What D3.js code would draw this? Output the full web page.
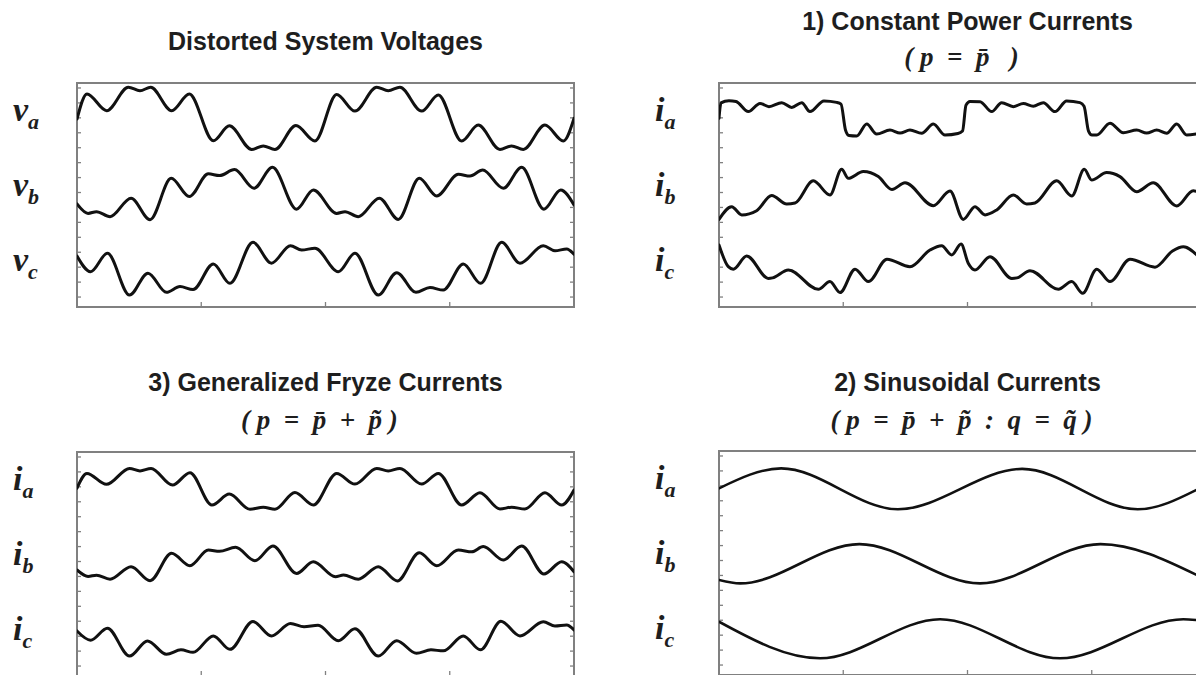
<!DOCTYPE html>
<html>
<head>
<meta charset="utf-8">
<script src="https://cdn.jsdelivr.net/npm/d3@7"></script>
<style>
  html, body { margin: 0; padding: 0; background: #fff; }
  svg { display: block; }
  .title { font-family: "Liberation Sans", Arial, sans-serif; font-weight: bold; font-size: 25px; fill: #1e1e1e; }
  .formula { font-family: "Liberation Serif", "Times New Roman", serif; font-weight: bold; font-style: italic; font-size: 27px; fill: #1e1e1e; white-space: pre; }
  .sym { font-family: "Liberation Serif", "Times New Roman", serif; font-weight: bold; font-style: italic; fill: #1e1e1e; }
</style>
</head>
<body>
<svg id="chart" width="1196" height="675"></svg>
<script>
// Time axis: two 50 Hz cycles in milliseconds. Values: per-phase signal, arbitrary units.
const timeDomain = [0, 40];
const timeTicks = [10, 20, 30];

// Distorted system voltages
const voltageA = [[0,0.05],[0.80,1.06],[2.39,0.39],[4.13,1.33],[5.07,1.19],[5.93,1.33],[7.62,0.39],[9.04,1.06],[10.97,-0.82],[12.26,-0.22],[14.06,-1.17],[14.99,-1.03],[15.93,-1.17],[17.62,-0.21],[19.15,-0.83],[20.90,1.04],[22.37,0.37],[24.12,1.33],[25.05,1.19],[25.99,1.33],[27.74,0.37],[29.08,1.02],[30.96,-0.83],[32.29,-0.19],[34.04,-1.17],[34.98,-1.03],[35.92,-1.17],[37.66,-0.19],[39.14,-0.83],[40,0.08]];
const voltageB = [[0,-0.36],[0.89,-0.74],[1.57,-0.67],[2.66,-0.87],[4.35,-0.13],[5.88,-0.99],[7.58,0.67],[9.04,-0.06],[10.57,0.85],[11.47,0.78],[12.68,1.02],[14.24,0.27],[15.73,1.11],[17.67,-0.57],[19.02,0.20],[20.90,-0.74],[21.57,-0.67],[22.64,-0.87],[24.33,-0.13],[25.86,-0.98],[27.55,0.67],[28.95,-0.04],[30.69,0.83],[31.63,0.76],[32.65,1.00],[34.31,0.27],[35.79,1.11],[37.58,-0.57],[38.93,0.20],[40,-0.40]];
const voltageC = [[0,0.55],[1.09,-0.08],[2.45,0.66],[4.23,-1.02],[5.71,-0.14],[7.20,-0.91],[8.29,-0.68],[9.34,-0.80],[10.97,0.23],[12.31,-0.55],[14.16,1.10],[15.65,0.26],[17.18,0.96],[18.08,0.79],[19.15,0.86],[21.03,-0.08],[22.37,0.66],[24.25,-1.02],[25.73,-0.12],[27.28,-0.91],[28.41,-0.72],[29.48,-0.82],[31.09,0.23],[32.49,-0.55],[34.18,1.10],[35.65,0.26],[37.53,0.96],[38.47,0.76],[39.41,0.83],[40,0.62]];

// 1) Constant power currents
const constPowerA = [[0,0.08],[0.16,0.70],[0.80,0.79],[1.37,0.76],[2.36,0.35],[3.30,0.68],[4.02,0.55],[5.05,0.71],[5.85,0.52],[6.66,0.71],[7.32,0.35],[8.45,0.78],[9.47,0.72],[9.82,0.65],[10.18,-0.39],[10.46,-0.61],[11.08,-0.63],[11.89,-0.15],[12.69,-0.55],[13.76,-0.39],[14.57,-0.51],[15.37,-0.39],[16.31,-0.52],[17.25,-0.15],[18.19,-0.59],[19.23,-0.53],[19.60,-0.43],[19.88,0.61],[20.20,0.76],[21.01,0.75],[21.95,0.35],[22.75,0.71],[23.69,0.55],[24.49,0.68],[25.29,0.57],[26.10,0.71],[27.04,0.35],[27.98,0.78],[29.05,0.71],[29.38,0.57],[29.74,-0.43],[30.02,-0.59],[30.40,-0.59],[31.47,-0.12],[32.54,-0.50],[33.62,-0.39],[34.42,-0.51],[35.23,-0.39],[36.03,-0.52],[36.84,-0.15],[37.64,-0.59],[38.6,-0.53]];
const constPowerB = [[0,-0.98],[1.02,-0.47],[1.83,-0.80],[3.03,-0.63],[4.24,-0.02],[5.45,-0.36],[6.12,-0.32],[7.59,0.57],[8.93,0.0],[9.87,1.03],[10.41,0.67],[11.61,0.94],[12.82,0.74],[13.92,0.22],[14.97,0.49],[17.25,-0.43],[18.59,0.16],[19.66,-0.98],[20.60,-0.47],[21.41,-0.80],[22.35,-0.60],[23.69,0.0],[24.76,-0.36],[25.43,-0.32],[27.18,0.57],[28.39,-0.04],[29.40,1.03],[29.99,0.60],[31.20,0.90],[32.27,0.74],[33.62,0.13],[34.95,0.49],[36.84,-0.44],[38.17,0.17],[38.6,0.12]];
const constPowerC = [[0,0.99],[0.75,0.12],[1.15,0.02],[2.23,0.55],[3.97,-0.35],[4.31,-0.33],[5.58,-0.01],[7.99,-0.79],[8.93,-0.48],[9.74,-0.92],[10.95,0.02],[12.02,-0.48],[13.52,0.42],[15.37,0.12],[16.98,0.79],[17.92,0.96],[18.73,0.59],[19.48,1.03],[20.06,0.26],[20.60,-0.01],[21.81,0.52],[23.56,-0.35],[23.98,-0.33],[25.03,-0.04],[27.31,-0.79],[28.39,-0.48],[29.27,-0.95],[30.40,0.02],[31.47,-0.48],[33.08,0.42],[35.09,0.10],[36.50,0.75],[37.37,0.92],[38.6,0.52]];

// 3) Generalized Fryze currents
const fryzeA = [[0,0.05],[0.80,0.64],[2.37,0.20],[4.23,0.84],[5.07,0.74],[5.96,0.84],[7.69,0.17],[9.09,0.67],[10.86,-0.63],[12.26,-0.19],[13.92,-0.80],[14.99,-0.72],[15.93,-0.80],[17.54,-0.13],[19.02,-0.63],[20.90,0.64],[22.37,0.21],[24.12,0.84],[25.05,0.74],[25.99,0.84],[27.74,0.21],[29.08,0.64],[30.96,-0.63],[32.43,-0.14],[34.04,-0.79],[34.98,-0.72],[36.05,-0.79],[37.66,-0.14],[39.01,-0.63],[40,-0.03]];
const fryzeB = [[0,-0.24],[0.89,-0.50],[1.57,-0.45],[2.66,-0.61],[4.35,-0.11],[5.88,-0.67],[7.61,0.43],[9.09,-0.07],[10.57,0.56],[11.47,0.51],[12.76,0.67],[14.32,0.13],[15.77,0.72],[17.67,-0.38],[19.02,0.09],[20.80,-0.51],[21.45,-0.44],[22.64,-0.61],[24.25,-0.11],[25.78,-0.68],[27.55,0.45],[28.95,-0.07],[30.69,0.56],[31.77,0.49],[32.70,0.70],[34.31,0.16],[35.79,0.72],[37.58,-0.40],[39.01,0.09],[40,-0.31]];
const fryzeC = [[0,0.31],[1.09,-0.06],[2.45,0.42],[4.23,-0.70],[5.67,-0.09],[7.20,-0.63],[8.37,-0.45],[9.34,-0.55],[10.97,0.11],[12.31,-0.43],[14.16,0.69],[15.65,0.11],[17.18,0.61],[18.27,0.48],[19.40,0.54],[21.03,-0.08],[22.37,0.40],[24.25,-0.70],[25.73,-0.08],[27.32,-0.59],[28.49,-0.45],[29.48,-0.49],[31.09,0.11],[32.47,-0.45],[34.12,0.70],[35.65,0.11],[37.53,0.68],[38.47,0.51],[39.41,0.55],[40,0.35]];

// 2) Sinusoidal currents
const sineA = [[0,0.0],[5.0,0.80],[14.4,-0.84],[24.4,0.78],[33.7,-0.84],[38.6,-0.02]];
const sineB = [[0,-0.68],[1.7,-0.82],[11.3,0.76],[21.0,-0.82],[30.7,0.76],[38.6,-0.52]];
const sineC = [[0,0.64],[8.13,-0.83],[17.79,0.74],[27.44,-0.83],[37.37,0.74],[38.6,0.70]];

const phaseNames = ["a", "b", "c"];

const panels = [
  { left: 77,  top: 83,  letter: "v", series: [voltageA, voltageB, voltageC],
    title: "Distorted System Voltages", titleY: 49.5, formula: null, formulaY: null },
  { left: 719, top: 83,  letter: "i", series: [constPowerA, constPowerB, constPowerC],
    title: "1) Constant Power Currents", titleY: 30, formula: "( p  =  p\u0304   )", formulaY: 66 },
  { left: 77,  top: 452, letter: "i", series: [fryzeA, fryzeB, fryzeC],
    title: "3) Generalized Fryze Currents", titleY: 391, formula: "( p  =  p\u0304  +  p\u0303 )", formulaY: 429 },
  { left: 719, top: 451, letter: "i", series: [sineA, sineB, sineC],
    title: "2) Sinusoidal Currents", titleY: 391, formula: "( p  =  p\u0304  +  p\u0303  :  q  =  q\u0303 )", formulaY: 429 }
];

const W = 497, H = 224;
const svg = d3.select("#chart");

const x = d3.scaleLinear().domain(timeDomain).range([0, W]);
const y = d3.scaleLinear().domain([0, 9]).range([H, 0]);
const channelBase = [7.5, 4.5, 1.5];
const sideTicks = d3.range(0.4, 9, 0.6);

panels.forEach((p, pi) => {
  const g = svg.append("g").attr("transform", `translate(${p.left},${p.top})`);
  const clipId = "clip" + pi;
  // clip rectangle lives in the panel's local coordinates
  svg.append("clipPath").attr("id", clipId)
    .append("rect").attr("x", 0).attr("y", 0).attr("width", W).attr("height", H);

  // frame
  g.append("rect").attr("width", W).attr("height", H)
    .attr("fill", "none").attr("stroke", "#808080").attr("stroke-width", 2);

  // inner minor ticks on left and right edges, major ticks on the bottom
  g.selectAll(".tl").data(sideTicks).join("line")
    .attr("x1", 0).attr("x2", 4).attr("y1", d => y(d)).attr("y2", d => y(d))
    .attr("stroke", "#808080").attr("stroke-width", 1.3);
  g.selectAll(".tr").data(sideTicks).join("line")
    .attr("x1", W - 4).attr("x2", W).attr("y1", d => y(d)).attr("y2", d => y(d))
    .attr("stroke", "#808080").attr("stroke-width", 1.3);
  g.selectAll(".tb").data(timeTicks).join("line")
    .attr("x1", d => x(d)).attr("x2", d => x(d)).attr("y1", H).attr("y2", H - 5)
    .attr("stroke", "#808080").attr("stroke-width", 1.3);

  // waveforms
  const lg = g.append("g").attr("clip-path", `url(#${clipId})`);
  p.series.forEach((s, k) => {
    const line = d3.line()
      .x(d => x(d[0]))
      .y(d => y(channelBase[k] + d[1]))
      .curve(d3.curveMonotoneX);
    lg.append("path").datum(s).attr("d", line)
      .attr("fill", "none").attr("stroke", "#111")
      .attr("stroke-width", pi === 3 ? 2.6 : 3)
      .attr("stroke-linejoin", "round").attr("stroke-linecap", "round");

    // phase label, e.g. v_a / i_b
    const cy = p.top + y(channelBase[k]);
    const t = svg.append("text").attr("class", "sym")
      .attr("x", p.left - 64).attr("y", cy + 1);
    t.append("tspan").attr("font-size", 34).text(p.letter);
    t.append("tspan").attr("font-size", 22).attr("dy", 8).text(phaseNames[k]);
  });

  // titles
  const cx = p.left + W / 2;
  svg.append("text").attr("class", "title")
    .attr("x", cx).attr("y", p.titleY).attr("text-anchor", "middle").text(p.title);
  if (p.formula) {
    svg.append("text").attr("class", "formula")
      .attr("x", cx - 6).attr("y", p.formulaY).attr("text-anchor", "middle").text(p.formula);
  }
});
</script>
</body>
</html>
